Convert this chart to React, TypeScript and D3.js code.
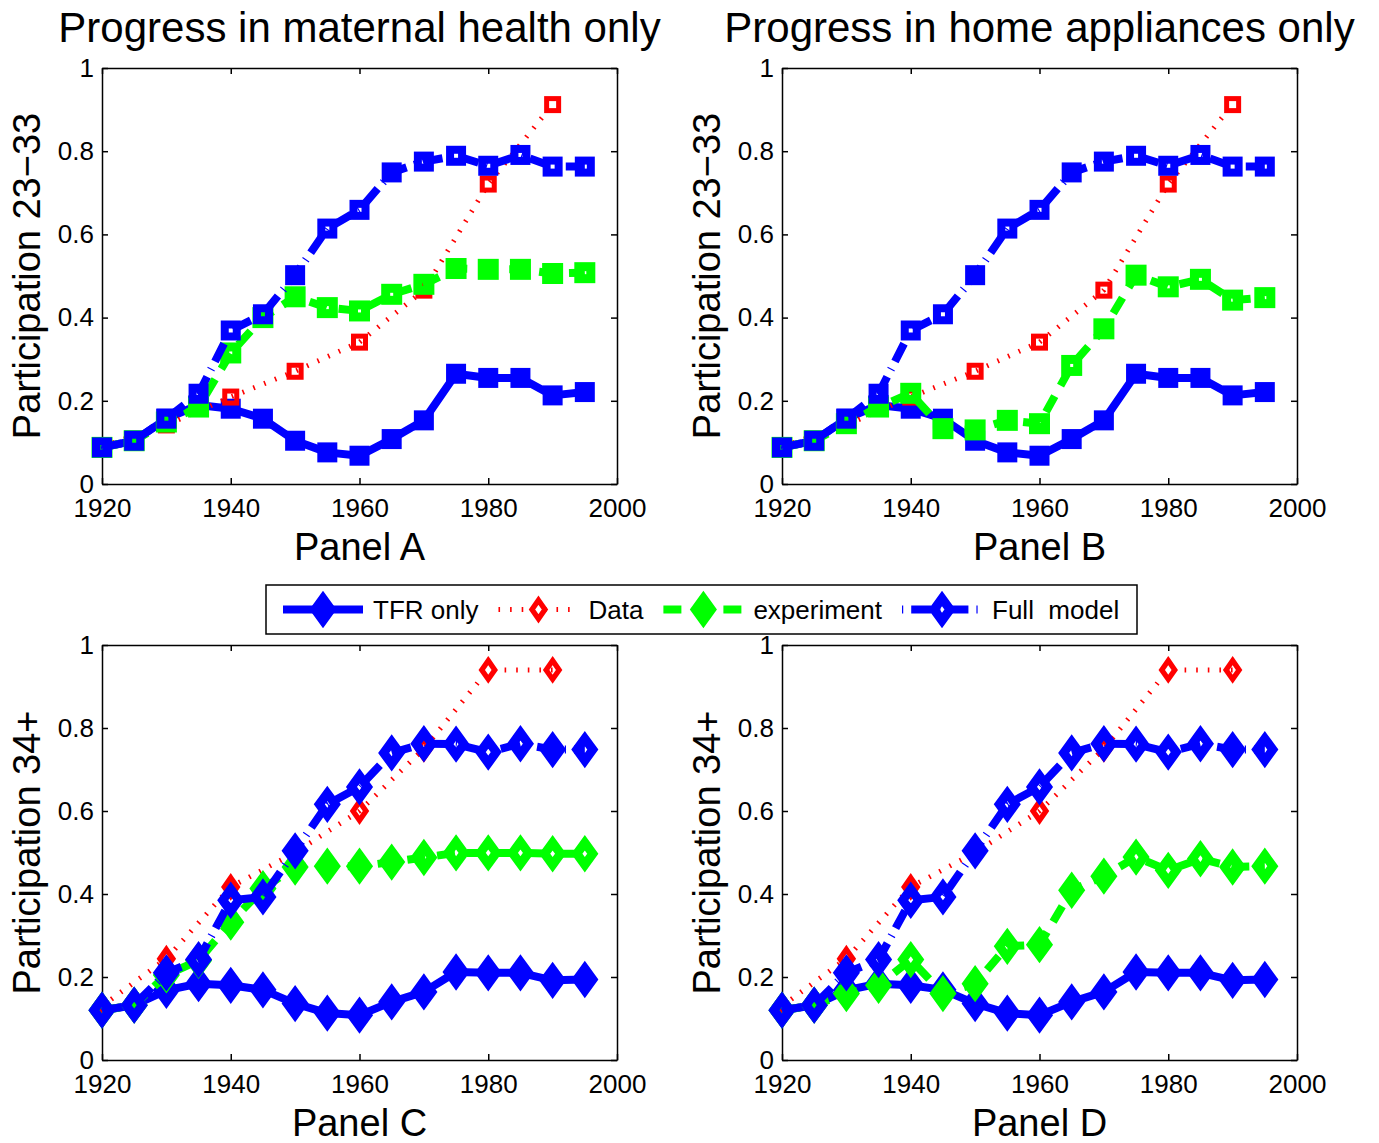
import React, { useEffect, useRef } from 'react';
import * as d3 from 'd3';

// model periods (every 5 years) and data periods (every 10 years)
const years = [1920, 1925, 1930, 1935, 1940, 1945, 1950, 1955, 1960, 1965, 1970, 1975, 1980, 1985, 1990, 1995];
const dataYears = [1920, 1930, 1940, 1950, 1960, 1970, 1980, 1990];

const xTicks = [1920, 1940, 1960, 1980, 2000];
const yTicks = [0, 0.2, 0.4, 0.6, 0.8, 1];

// participation 23-33 (panels A and B)
const tfrYoung = [0.088, 0.104, 0.157, 0.19, 0.181, 0.157, 0.104, 0.076, 0.068, 0.108, 0.153, 0.265, 0.255, 0.255, 0.213, 0.221];
const fullYoung = [0.088, 0.104, 0.157, 0.217, 0.369, 0.408, 0.502, 0.614, 0.659, 0.749, 0.775, 0.789, 0.765, 0.791, 0.763, 0.763];
const dataYoung = [0.09, 0.142, 0.209, 0.271, 0.341, 0.466, 0.721, 0.912];
const maternalYoung = [0.088, 0.104, 0.149, 0.185, 0.315, 0.4, 0.45, 0.424, 0.416, 0.456, 0.48, 0.518, 0.516, 0.516, 0.506, 0.508];
const applianceYoung = [0.088, 0.104, 0.145, 0.185, 0.218, 0.133, 0.13, 0.153, 0.145, 0.285, 0.373, 0.502, 0.474, 0.492, 0.442, 0.448];

// participation 34+ (panels C and D)
const tfrOld = [0.12, 0.132, 0.168, 0.184, 0.18, 0.169, 0.136, 0.113, 0.108, 0.14, 0.164, 0.212, 0.21, 0.21, 0.192, 0.194];
const fullOld = [0.12, 0.132, 0.21, 0.242, 0.385, 0.393, 0.504, 0.616, 0.658, 0.74, 0.762, 0.761, 0.742, 0.762, 0.748, 0.748];
const dataOld = [0.13, 0.244, 0.417, 0.5, 0.6, 0.75, 0.94, 0.94];
const maternalOld = [0.12, 0.132, 0.205, 0.24, 0.332, 0.413, 0.465, 0.467, 0.467, 0.477, 0.488, 0.499, 0.499, 0.499, 0.497, 0.497];
const applianceOld = [0.12, 0.132, 0.16, 0.18, 0.242, 0.16, 0.184, 0.274, 0.278, 0.409, 0.443, 0.489, 0.457, 0.485, 0.465, 0.467];

const legendLabels = ['TFR only', 'Data', 'experiment', 'Full\u00a0 model'];

const FONT = '"Liberation Sans", Arial, Helvetica, sans-serif';
const BLUE = '#0000ff';
const RED = '#ff0000';
const GREEN = '#00ff00';

// line + marker look of each series, MATLAB style (marker face is transparent except TFR)
const styles = {
    tfr: { color: BLUE, width: 8, dash: null, offset: 0, fill: true, sq: [12, 8], dia: [8, 11, 9] },
    data: { color: RED, width: 5, dash: '1.6,10', offset: 0, fill: false, sq: [12, 5], dia: [6.5, 9.3, 5.3] },
    exp: { color: GREEN, width: 8, dash: '18,12', offset: 0, fill: false, sq: [12, 9], dia: [8, 11, 9] },
    full: { color: BLUE, width: 8, dash: '20,8,1.2,8', offset: 28, fill: false, sq: [12, 8], dia: [8, 11, 9] },
};

const panels = [
    { title: 'Progress in maternal health only', label: 'Panel A', ylabel: 'Participation 23\u221233', shape: 'square',
      tfr: tfrYoung, data: dataYoung, exp: maternalYoung, full: fullYoung, box: [102, 617, 68, 484] },
    { title: 'Progress in home appliances only', label: 'Panel B', ylabel: 'Participation 23\u221233', shape: 'square',
      tfr: tfrYoung, data: dataYoung, exp: applianceYoung, full: fullYoung, box: [782, 1297, 68, 484] },
    { title: '', label: 'Panel C', ylabel: 'Participation 34+', shape: 'diamond',
      tfr: tfrOld, data: dataOld, exp: maternalOld, full: fullOld, box: [102, 617, 645, 1060] },
    { title: '', label: 'Panel D', ylabel: 'Participation 34+', shape: 'diamond',
      tfr: tfrOld, data: dataOld, exp: applianceOld, full: fullOld, box: [782, 1297, 645, 1060] },
];

const drawMarker = (g, shape, cx, cy, st, filled = st.fill) => {
    if (shape === 'square') {
        const [s, sw] = st.sq;
        g.append('rect')
            .attr('x', cx - s / 2).attr('y', cy - s / 2)
            .attr('width', s).attr('height', s)
            .attr('fill', filled ? st.color : 'none')
            .attr('stroke', st.color).attr('stroke-width', sw)
            .attr('stroke-linejoin', 'miter');
    } else {
        const [a, b, sw] = st.dia;
        g.append('path')
            .attr('d', `M${cx},${cy - b}L${cx + a},${cy}L${cx},${cy + b}L${cx - a},${cy}Z`)
            .attr('fill', filled ? st.color : 'none')
            .attr('stroke', st.color).attr('stroke-width', sw)
            .attr('stroke-linejoin', 'miter').attr('stroke-miterlimit', 10);
    }
};

const drawSeries = (g, xs, values, x, y, shape, st) => {
    const line = d3.line().x((_, i) => x(xs[i])).y(d => y(d));
    g.append('path')
        .datum(values)
        .attr('fill', 'none')
        .attr('stroke', st.color)
        .attr('stroke-width', st.width)
        .attr('stroke-dasharray', st.dash)
        .attr('stroke-linejoin', 'round')
        .attr('d', line);
    values.forEach((v, i) => drawMarker(g, shape, x(xs[i]), y(v), st));
};

const drawPanel = (svg, p) => {
    const [x0, x1, y0, y1] = p.box;
    const x = d3.scaleLinear().domain([1920, 2000]).range([x0, x1]);
    const y = d3.scaleLinear().domain([0, 1]).range([y1, y0]);
    const g = svg.append('g');

    // axes box with inward ticks
    const styleAxis = sel => {
        sel.attr('font-size', 26).attr('font-family', FONT);
        sel.selectAll('path, line').attr('stroke', '#000').attr('stroke-width', 1.5);
        sel.selectAll('text').attr('fill', '#000');
    };
    g.append('g').attr('transform', `translate(0,${y1})`)
        .call(d3.axisBottom(x).tickValues(xTicks).tickSize(-6).tickSizeOuter(0).tickPadding(15).tickFormat(d3.format('d')))
        .call(styleAxis);
    g.append('g').attr('transform', `translate(0,${y0})`)
        .call(d3.axisTop(x).tickValues(xTicks).tickSize(-6).tickSizeOuter(0).tickFormat(() => ''))
        .call(styleAxis);
    g.append('g').attr('transform', `translate(${x0},0)`)
        .call(d3.axisLeft(y).tickValues(yTicks).tickSize(-6).tickSizeOuter(0).tickPadding(8).tickFormat(d => String(d)))
        .call(styleAxis);
    g.append('g').attr('transform', `translate(${x1},0)`)
        .call(d3.axisRight(y).tickValues(yTicks).tickSize(-6).tickSizeOuter(0).tickFormat(() => ''))
        .call(styleAxis);

    // series, in MATLAB plotting order
    drawSeries(g, years, p.tfr, x, y, p.shape, styles.tfr);
    drawSeries(g, dataYears, p.data, x, y, p.shape, styles.data);
    drawSeries(g, years, p.exp, x, y, p.shape, styles.exp);
    drawSeries(g, years, p.full, x, y, p.shape, styles.full);

    const cx = (x0 + x1) / 2;
    const cy = (y0 + y1) / 2;
    if (p.title) {
        g.append('text')
            .attr('x', cx).attr('y', y0 - 26)
            .attr('text-anchor', 'middle')
            .attr('font-family', FONT).attr('font-size', 42)
            .text(p.title);
    }
    g.append('text')
        .attr('x', cx).attr('y', y1 + 76)
        .attr('text-anchor', 'middle')
        .attr('font-family', FONT).attr('font-size', 38)
        .text(p.label);
    g.append('text')
        .attr('transform', `translate(${x0 - 62},${cy}) rotate(-90)`)
        .attr('text-anchor', 'middle')
        .attr('font-family', FONT).attr('font-size', 38)
        .text(p.ylabel);
};

const drawLegend = svg => {
    const g = svg.append('g');
    const top = 585, h = 49, left = 266, w = 871;
    const my = top + h / 2;
    g.append('rect')
        .attr('x', left).attr('y', top).attr('width', w).attr('height', h)
        .attr('fill', '#fff').attr('stroke', '#000').attr('stroke-width', 1.5);

    const keys = ['tfr', 'data', 'exp', 'full'];
    let cur = left + 17;
    keys.forEach((k, i) => {
        const st = styles[k];
        g.append('line')
            .attr('x1', cur).attr('x2', cur + 80).attr('y1', my).attr('y2', my)
            .attr('stroke', st.color).attr('stroke-width', st.width)
            .attr('stroke-dasharray', st.dash)
            .attr('stroke-dashoffset', st.offset);
        // legend experiment marker is drawn solid in the original
        drawMarker(g, 'diamond', cur + 40, my, st, st.fill || k === 'exp');
        const t = g.append('text')
            .attr('x', cur + 90).attr('y', my + 9)
            .attr('font-family', FONT).attr('font-size', 26)
            .text(legendLabels[i]);
        cur = cur + 90 + t.node().getComputedTextLength() + 20;
    });
};

export default function App() {
    const ref = useRef(null);

    useEffect(() => {
        document.body.style.margin = '0';
        const svg = d3.select(ref.current);
        svg.selectAll('*').remove();
        svg.append('rect').attr('width', 1379).attr('height', 1143).attr('fill', '#fff');
        panels.forEach(p => drawPanel(svg, p));
        drawLegend(svg);
    }, []);

    return <svg ref={ref} width={1379} height={1143} style={{ display: 'block' }} />;
}
